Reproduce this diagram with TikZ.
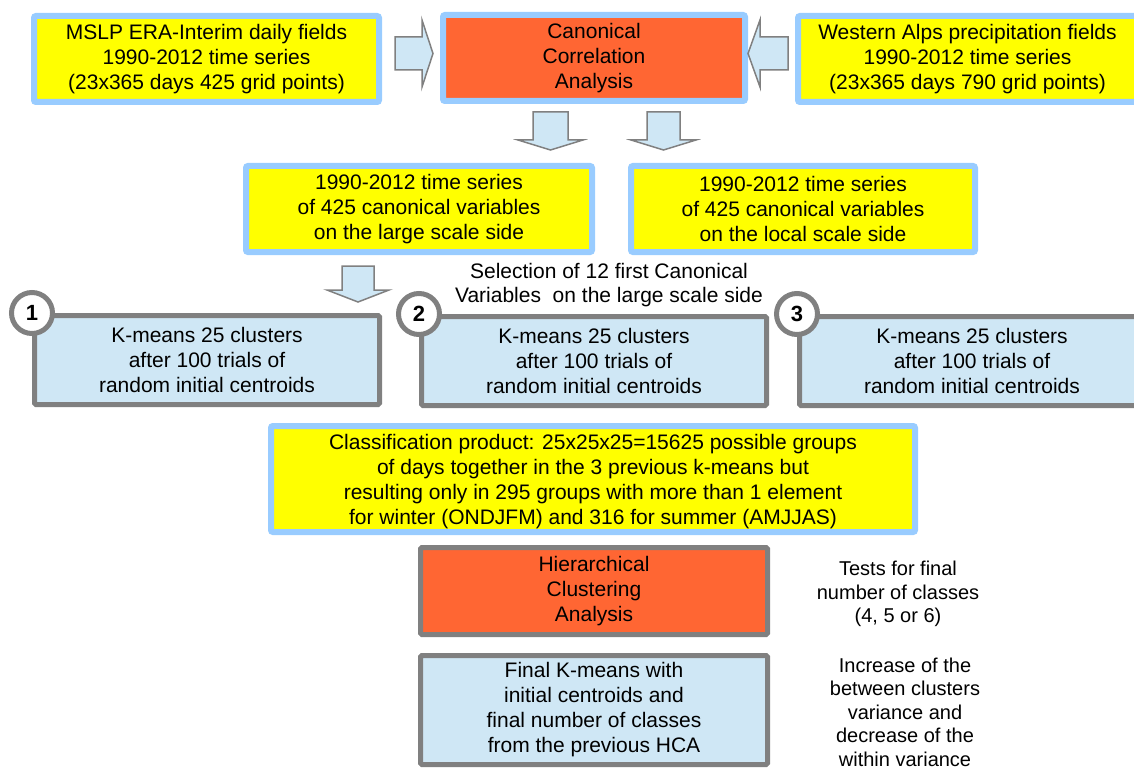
\documentclass[tikz,border=0pt]{standalone}
\usepackage{fontspec}
\setmainfont{Liberation Sans}
\definecolor{bordblue}{RGB}{153,204,255}
\definecolor{ylw}{RGB}{255,255,0}
\definecolor{orng}{RGB}{255,102,51}
\definecolor{lblue}{RGB}{207,231,245}
\definecolor{gry}{RGB}{128,128,128}
\begin{document}
\begin{tikzpicture}[x=1pt,y=-1pt, font=\fontsize{21}{25}\selectfont,
 ybox/.style={draw=bordblue, line width=6pt, fill=ylw, rounded corners=2pt, align=center, inner sep=0pt},
 obox/.style={ybox, fill=orng},
 gbox/.style={draw=gry, line width=5pt, fill=lblue, align=center, inner sep=0pt, rounded corners=1.5pt},
 hbox/.style={gbox, fill=orng},
 numc/.style={circle, draw=gry, line width=5pt, fill=white, minimum size=41pt, inner sep=0pt, font=\fontsize{22}{22}\selectfont\bfseries},
 barrow/.style={draw=gry, line width=1.5pt, fill=lblue, line join=miter},
 note/.style={align=center, inner sep=0pt, font=\fontsize{20}{23.5}\selectfont}]
\useasboundingbox (0,0) rectangle (1134,770);
\clip (0,0) rectangle (1134,770);
% top row
\node[ybox, minimum width=345pt, minimum height=86pt] (mslp) at (206.5,59)
  {MSLP ERA-Interim daily fields\\1990-2012 time series\\(23x365 days 425 grid points)};
\node[obox, minimum width=302pt, minimum height=86pt] (cca) at (594,58)
  {Canonical\\Correlation\\Analysis};
\node[ybox, minimum width=339pt, minimum height=86pt] (alps) at (967.5,59)
  {Western Alps precipitation fields\\1990-2012 time series\\(23x365 days 790 grid points)};
% arrows into CCA
\draw[barrow] (395,37) -- (422,37) -- (422,20) -- (433,53.5) -- (422,87) -- (422,70) -- (395,70) -- cycle;
\draw[barrow] (788,37) -- (760,37) -- (760,20) -- (748,53.5) -- (760,87) -- (760,70) -- (788,70) -- cycle;
% arrows down from CCA
\draw[barrow] (533,112) -- (568,112) -- (568,140) -- (583,140) -- (550.5,150) -- (518,140) -- (533,140) -- cycle;
\draw[barrow] (647,112) -- (680,112) -- (680,140) -- (696,140) -- (663.5,150) -- (631,140) -- (647,140) -- cycle;
% second row
\node[ybox, minimum width=346pt, minimum height=86pt] (large) at (419,209)
  {1990-2012 time series\\of 425 canonical variables\\on the large scale side};
\node[ybox, minimum width=344pt, minimum height=86pt] (local) at (803,209)
  {1990-2012 time series\\of 425 canonical variables\\on the local scale side};
% arrow to k-means
\draw[barrow] (342,266) -- (374,266) -- (374,290) -- (389,290) -- (358,302) -- (327,290) -- (342,290) -- cycle;
\node[note, font=\fontsize{21}{24}\selectfont] (sel) at (609,285)
  {Selection of 12 first Canonical\\Variables\ \ on the large scale side};
% third row
\node[gbox, minimum width=345pt, minimum height=89pt] (km1) at (207,360)
  {K-means 25 clusters\\after 100 trials of\\random initial centroids};
\node[gbox, minimum width=345pt, minimum height=89pt] (km2) at (594,361)
  {K-means 25 clusters\\after 100 trials of\\random initial centroids};
\node[gbox, minimum width=345pt, minimum height=89pt] (km3) at (972,361)
  {K-means 25 clusters\\after 100 trials of\\random initial centroids};
\node[numc] (n1) at (km1.north west) {1};
\node[numc] (n2) at (km2.north west) {2};
\node[numc] (n3) at (km3.north west) {3};
% classification
\node[ybox, minimum width=644pt, minimum height=106pt] (cls) at (593,479)
  {\rule{0pt}{21pt}Classification product: 25x25x25=15625 possible groups\\of days together in the 3 previous k-means but\\resulting only in 295 groups with more than 1 element\\for winter (ONDJFM) and 316 for summer (AMJJAS)};
% HCA
\node[hbox, minimum width=347pt, minimum height=87pt] (hca) at (594,591)
  {Hierarchical\\Clustering\\Analysis};
\node[gbox, minimum width=347pt, minimum height=109pt] (fin) at (594,710)
  {Final K-means with\\initial centroids and\\final number of classes\\from the previous HCA};
% notes
\node[note] (tests) at (898,594) {Tests for final\\number of classes\\(4, 5 or 6)};
\node[note] (incr) at (905,712) {Increase of the\\between clusters\\variance and\\decrease of the\\within variance};
\end{tikzpicture}
\end{document}
